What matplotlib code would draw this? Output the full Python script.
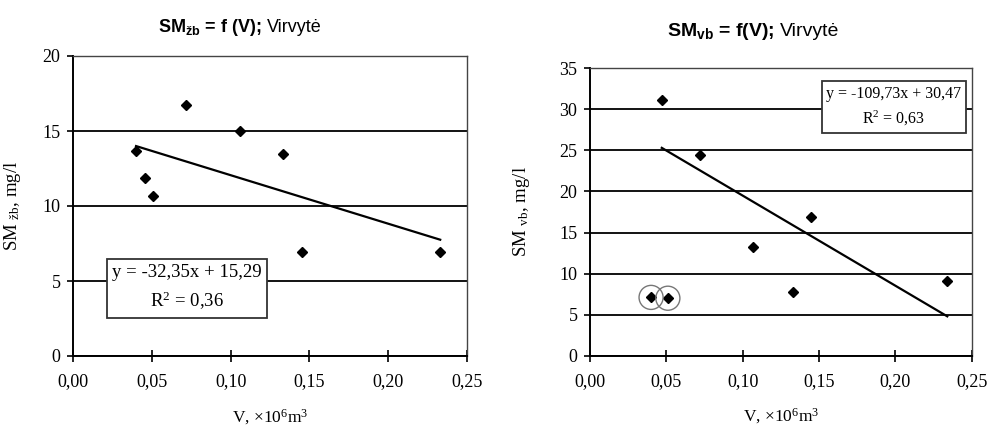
import matplotlib.pyplot as plt
from matplotlib.ticker import FuncFormatter

plt.rcParams['font.family'] = 'Liberation Serif'
plt.rcParams['mathtext.default'] = 'regular'

# left chart: SM_zb vs V
v_zb = [0.040, 0.046, 0.051, 0.072, 0.106, 0.133, 0.145, 0.233]
sm_zb = [13.7, 11.9, 10.7, 16.75, 15.0, 13.5, 6.95, 6.95]
fit_zb = (-32.35, 15.29)
r2_zb = '0,36'

# right chart: SM_vb vs V (two circled points left out of the fit)
v_vb = [0.047, 0.072, 0.107, 0.133, 0.145, 0.234]
sm_vb = [31.1, 24.4, 13.2, 7.7, 16.85, 9.1]
fit_vb = (-109.73, 30.47)
r2_vb = '0,63'
circled_v = [0.040, 0.051]
circled_sm = [7.1, 7.0]

x_ticks = [0.0, 0.05, 0.10, 0.15, 0.20, 0.25]

fig = plt.figure(figsize=(9.91, 4.28), dpi=100)
ax1 = fig.add_axes([73 / 991, 72 / 428, 394 / 991, 300 / 428])
ax2 = fig.add_axes([590 / 991, 72.3 / 428, 381.7 / 991, 287.4 / 428])

comma = FuncFormatter(lambda v, p: f'{v:.2f}'.replace('.', ','))


def style(ax, ymax, ystep):
    ax.set_xlim(0, 0.25)
    ax.set_ylim(0, ymax)
    ax.set_xticks(x_ticks)
    ax.set_yticks(range(0, ymax + 1, ystep))
    ax.xaxis.set_major_formatter(comma)
    ax.tick_params(axis='x', direction='inout', length=9, width=1.2, pad=8, labelsize=13)
    ax.tick_params(axis='y', direction='out', length=4, width=1.2, pad=5, labelsize=13)
    ax.grid(axis='y', color='black', lw=1.3)
    ax.set_axisbelow(True)
    for s in ['left', 'bottom']:
        ax.spines[s].set_linewidth(1.4)
    for s in ['top', 'right']:
        ax.spines[s].set_linewidth(1.0)
        ax.spines[s].set_color('#444444')
    ax.set_xlabel('V, ×10$^{6}$m$^{3}$', fontsize=12.5, labelpad=12)


def trend(ax, v, fit):
    xs = [min(v), max(v)]
    ys = [fit[0] * x + fit[1] for x in xs]
    ax.plot(xs, ys, color='black', lw=1.6)


def eq_text(ax, x, y, fit, r2, size):
    txt = f'y = {fit[0]:.2f}x + {fit[1]:.2f}'.replace('.', ',') + '\nR$^{2}$ = ' + r2
    ax.text(x, y, txt, transform=ax.transAxes, ha='center', va='center', multialignment='center',
            fontsize=size, linespacing=1.5,
            bbox=dict(boxstyle='square,pad=0.3', fc='white', ec='#333333', lw=1.3))


def rich_title(xc, y, bold, normal, size):
    t1 = fig.text(0, y, bold, fontsize=size, fontweight='bold', family='Liberation Sans',
                  ha='left', va='baseline')
    t2 = fig.text(0, y, normal, fontsize=size, family='Liberation Sans', ha='left', va='baseline')
    r = fig.canvas.get_renderer()
    w1 = t1.get_window_extent(r).width / fig.bbox.width
    w2 = t2.get_window_extent(r).width / fig.bbox.width
    gap = 5 / fig.bbox.width
    x0 = xc - (w1 + w2 + gap) / 2
    t1.set_x(x0)
    t2.set_x(x0 + w1 + gap)


# left
style(ax1, 20, 5)
ax1.plot(v_zb, sm_zb, 'D', color='black', ms=5, zorder=3)
trend(ax1, v_zb, fit_zb)
eq_text(ax1, (187 - 73) / 394, (356 - 288) / 300, fit_zb, r2_zb, 13.5)
ax1.set_ylabel('SM $_{žb}$, mg/l', fontsize=13.5)
ax1.yaxis.set_label_coords(-0.127, 0.5)

# right
style(ax2, 35, 5)
ax2.plot(v_vb, sm_vb, 'D', color='black', ms=5, zorder=3)
ax2.plot(circled_v, circled_sm, 'D', color='black', ms=5, zorder=3)
ax2.scatter(circled_v, circled_sm, s=300, facecolors='none', edgecolors='#777777', lw=1.0, zorder=3)
trend(ax2, v_vb, fit_vb)
eq_text(ax2, (894 - 590) / 381.7, (355.7 - 107) / 287.4, fit_vb, r2_vb, 11.5)
ax2.set_ylabel('SM $_{vb}$, mg/l', fontsize=13.5)
ax2.yaxis.set_label_coords(-0.152, 0.5)

rich_title(240 / 991, 1 - 32 / 428, 'SM$_{žb}$ = f (V);', 'Virvytė', 13)
rich_title(753 / 991, 1 - 36 / 428, 'SM$_{vb}$ = f(V);', 'Virvytė', 14)

fig.savefig('out.png', dpi=100)
